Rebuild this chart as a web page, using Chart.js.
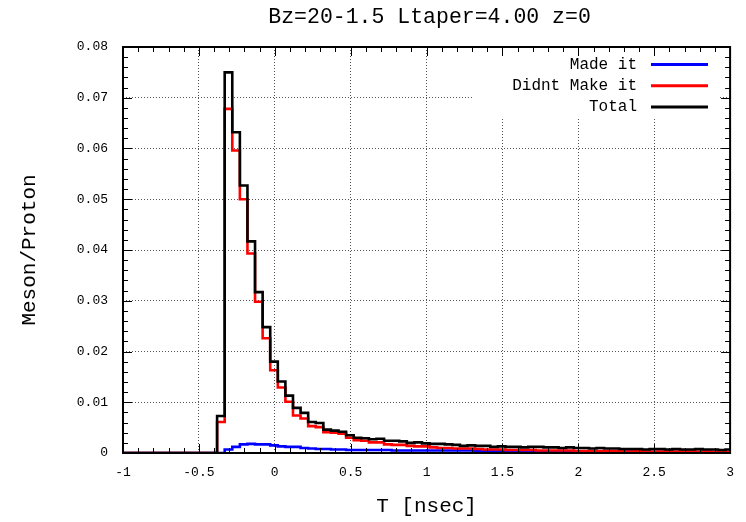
<!DOCTYPE html>
<html>
<head>
<meta charset="utf-8">
<script src="https://cdn.jsdelivr.net/npm/chart.js@4.4.0/dist/chart.umd.min.js"></script>
<style>
  html, body { margin: 0; padding: 0; background: #fff; }
  canvas { display: block; }
</style>
</head>
<body>
<canvas id="grafico" width="746" height="522"></canvas>
<script>
// Histograma: bins de 0.05 ns começando em -0.38
const inicioBin = -0.38;
const larguraBin = 0.05;

const tituloGrafico = 'Bz=20-1.5 Ltaper=4.00 z=0';
const nomesSeries = ['Made it', 'Didnt Make it', 'Total'];

// valores (Meson/Proton por bin)
const madeIt = [
  0.0000, 0.0007, 0.0012, 0.0017, 0.0018, 0.0017, 0.0017, 0.0015, 0.0013, 0.0012,
  0.0012, 0.0010, 0.0009, 0.0008, 0.0008, 0.0007, 0.0007, 0.0006, 0.0006, 0.0006,
  0.0006, 0.0006, 0.0006, 0.0005, 0.0005, 0.0005, 0.0005, 0.0005, 0.0005, 0.0005,
  0.0005, 0.0005, 0.0005, 0.0005, 0.0004, 0.0004, 0.0004, 0.0004, 0.0004, 0.0004,
  0.0003, 0.0003, 0.0003, 0.0003, 0.0003, 0.0003, 0.0003, 0.0003, 0.0003, 0.0003,
  0.0003, 0.0003, 0.0002, 0.0002, 0.0003, 0.0002, 0.0002, 0.0002, 0.0002, 0.0002,
  0.0002, 0.0002, 0.0002, 0.0002, 0.0002, 0.0002, 0.0002, 0.0002
];
const didntMakeIt = [
  0.0061, 0.0678, 0.0596, 0.0500, 0.0393, 0.0298, 0.0226, 0.0163, 0.0129, 0.0101,
  0.0074, 0.0068, 0.0053, 0.0051, 0.0041, 0.0040, 0.0038, 0.0030, 0.0025, 0.0024,
  0.0021, 0.0021, 0.0017, 0.0016, 0.0016, 0.0014, 0.0013, 0.0013, 0.0011, 0.0010,
  0.0010, 0.0009, 0.0009, 0.0009, 0.0008, 0.0007, 0.0007, 0.0007, 0.0006, 0.0006,
  0.0006, 0.0006, 0.0005, 0.0005, 0.0005, 0.0005, 0.0005, 0.0004, 0.0004, 0.0004,
  0.0004, 0.0004, 0.0004, 0.0004, 0.0003, 0.0004, 0.0003, 0.0003, 0.0003, 0.0003,
  0.0003, 0.0003, 0.0003, 0.0003, 0.0003, 0.0002, 0.0003, 0.0002
];
const total = [
  0.0073, 0.0750, 0.0632, 0.0527, 0.0417, 0.0317, 0.0248, 0.0180, 0.0141, 0.0113,
  0.0089, 0.0079, 0.0061, 0.0059, 0.0046, 0.0044, 0.0042, 0.0035, 0.0030, 0.0029,
  0.0027, 0.0028, 0.0024, 0.0024, 0.0023, 0.0020, 0.0021, 0.0019, 0.0018, 0.0018,
  0.0017, 0.0016, 0.0014, 0.0015, 0.0014, 0.0014, 0.0012, 0.0013, 0.0012, 0.0012,
  0.0011, 0.0012, 0.0012, 0.0011, 0.0011, 0.0010, 0.0011, 0.0010, 0.0010, 0.0009,
  0.0010, 0.0009, 0.0009, 0.0008, 0.0008, 0.0008, 0.0007, 0.0008, 0.0008, 0.0007,
  0.0008, 0.0007, 0.0007, 0.0008, 0.0007, 0.0007, 0.0006, 0.0007
];

const xTicks = [-1, -0.5, 0, 0.5, 1, 1.5, 2, 2.5, 3];
const xTickLabels = ['-1', '-0.5', '0', '0.5', '1', '1.5', '2', '2.5', '3'];
const yTicks = [0, 0.01, 0.02, 0.03, 0.04, 0.05, 0.06, 0.07, 0.08];
const yTickLabels = ['0', '0.01', '0.02', '0.03', '0.04', '0.05', '0.06', '0.07', '0.08'];

const coresSeries = ['#0000ff', '#ff0000', '#000000'];
const fonte = '"Liberation Mono", "DejaVu Sans Mono", monospace';

// transforma os valores dos bins em pontos para a linha em degraus
function montarPontos(valores) {
  const pontos = [{ x: xTicks[0], y: 0 }];
  valores.forEach((v, i) => {
    pontos.push({ x: Math.round((inicioBin + i * larguraBin) * 1000) / 1000, y: v });
  });
  pontos.push({ x: Math.round((inicioBin + valores.length * larguraBin) * 1000) / 1000, y: valores[valores.length - 1] });
  return pontos;
}

// moldura, marcas de escala, legenda e título no estilo gnuplot
const pluginMoldura = {
  id: 'moldura',
  afterDraw(chart) {
    const ctx = chart.ctx;
    const area = chart.chartArea;
    const sx = chart.scales.x;
    const sy = chart.scales.y;

    // legenda (caixa branca por cima da grade)
    ctx.save();
    ctx.fillStyle = '#fff';
    ctx.fillRect(472, area.top + 1, 248, 70);
    ctx.font = '16px ' + fonte;
    ctx.textAlign = 'right';
    ctx.textBaseline = 'middle';
    ctx.fillStyle = '#000';
    nomesSeries.forEach((nome, i) => {
      const y = area.top + 17.5 + i * 21.3;
      ctx.fillText(nome, 637, y);
      ctx.strokeStyle = coresSeries[i];
      ctx.lineWidth = 3;
      ctx.beginPath();
      ctx.moveTo(651, y);
      ctx.lineTo(708, y);
      ctx.stroke();
    });
    ctx.restore();

    // marcas menores e maiores nos quatro lados
    ctx.save();
    ctx.strokeStyle = '#000';
    ctx.lineWidth = 1;
    ctx.beginPath();
    for (let v = sx.min; v <= sx.max + 1e-9; v += 0.1) {
      const px = Math.round(sx.getPixelForValue(v)) + 0.5;
      const maior = Math.abs(v * 2 - Math.round(v * 2)) < 1e-6;
      const tam = maior ? 9 : 5;
      ctx.moveTo(px, area.bottom); ctx.lineTo(px, area.bottom - tam);
      ctx.moveTo(px, area.top); ctx.lineTo(px, area.top + tam);
    }
    for (let v = sy.min; v <= sy.max + 1e-9; v += 0.002) {
      const py = Math.round(sy.getPixelForValue(v)) + 0.5;
      const maior = Math.abs(v * 100 - Math.round(v * 100)) < 1e-6;
      const tam = maior ? 9 : 5;
      ctx.moveTo(area.left, py); ctx.lineTo(area.left + tam, py);
      ctx.moveTo(area.right, py); ctx.lineTo(area.right - tam, py);
    }
    ctx.stroke();
    ctx.lineWidth = 2;
    ctx.strokeRect(area.left, area.top, area.right - area.left, area.bottom - area.top);
    ctx.restore();

    // título centrado sobre a área do gráfico
    ctx.save();
    ctx.font = '21.5px ' + fonte;
    ctx.fillStyle = '#000';
    ctx.textAlign = 'center';
    ctx.textBaseline = 'middle';
    ctx.fillText(tituloGrafico, (area.left + area.right) / 2 + 3, 17);
    ctx.restore();
  }
};

const seriesDados = [madeIt, didntMakeIt, total];

new Chart(document.getElementById('grafico').getContext('2d'), {
  type: 'line',
  data: {
    datasets: seriesDados.map((valores, i) => ({
      label: nomesSeries[i],
      data: montarPontos(valores),
      borderColor: coresSeries[i],
      backgroundColor: coresSeries[i],
      borderWidth: 2.6,
      pointRadius: 0,
      fill: false,
      tension: 0,
      stepped: 'before',
      order: 2 - i
    }))
  },
  options: {
    responsive: false,
    animation: false,
    events: [],
    layout: { padding: { top: 47, right: 12, left: 0, bottom: 0 } },
    plugins: {
      legend: { display: false },
      title: { display: false },
      tooltip: { enabled: false }
    },
    scales: {
      x: {
        type: 'linear',
        min: -1,
        max: 3,
        afterBuildTicks: (scale) => { scale.ticks = xTicks.map(v => ({ value: v })); },
        afterFit: (scale) => { scale.height = 69; },
        ticks: {
          autoSkip: false,
          maxRotation: 0,
          padding: 12,
          color: '#000',
          font: { family: fonte, size: 13 },
          callback: (v) => xTickLabels[xTicks.indexOf(v)]
        },
        grid: { color: '#555', lineWidth: 1, drawTicks: false },
        border: { display: false, dash: [1, 2] },
        title: {
          display: true,
          text: 'T [nsec]',
          color: '#000',
          font: { family: fonte, size: 21 },
          padding: { top: 0, bottom: 3 }
        }
      },
      y: {
        type: 'linear',
        min: 0,
        max: 0.08,
        afterBuildTicks: (scale) => { scale.ticks = yTicks.map(v => ({ value: v })); },
        afterFit: (scale) => { scale.width = 123; },
        ticks: {
          autoSkip: false,
          padding: 15,
          color: '#000',
          font: { family: fonte, size: 13 },
          callback: (v) => yTickLabels[yTicks.indexOf(v)]
        },
        grid: { color: '#555', lineWidth: 1, drawTicks: false },
        border: { display: false, dash: [1, 2] },
        title: {
          display: true,
          text: 'Meson/Proton',
          color: '#000',
          font: { family: fonte, size: 21 },
          padding: { top: 17, bottom: 0 }
        }
      }
    }
  },
  plugins: [pluginMoldura]
});
</script>
</body>
</html>
